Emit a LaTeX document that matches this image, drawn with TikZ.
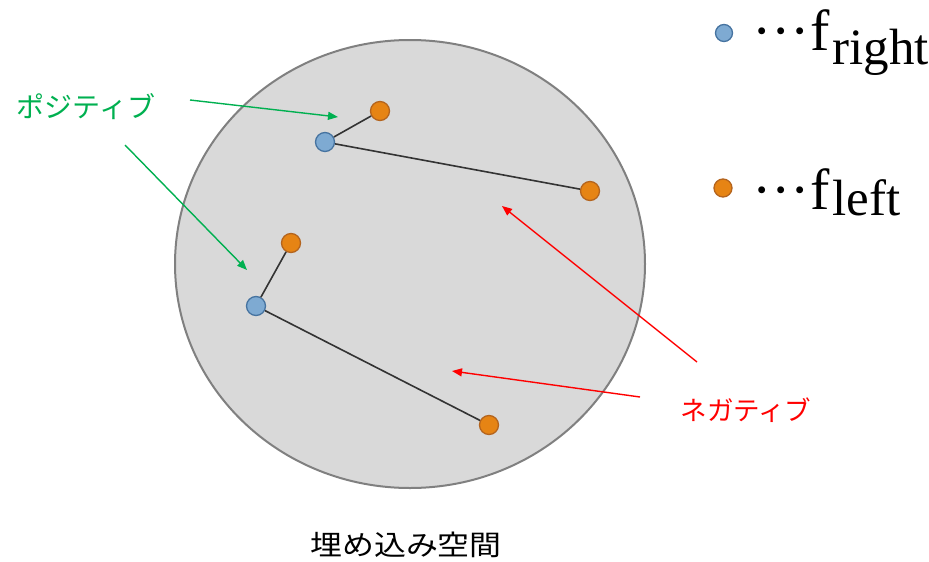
\documentclass[tikz,border=0pt]{standalone}
\usepackage{fontspec}
\usepackage{graphicx}
\setmainfont{Liberation Serif}
\newfontfamily\jp{Noto Sans CJK JP}
\usetikzlibrary{arrows.meta,shapes.geometric}
\definecolor{fillgray}{RGB}{217,217,217}
\definecolor{edgegray}{RGB}{128,128,128}
\definecolor{bluefill}{RGB}{126,170,210}
\definecolor{blueedge}{RGB}{70,115,160}
\definecolor{orfill}{RGB}{230,132,20}
\definecolor{oredge}{RGB}{180,100,30}
\definecolor{posgreen}{RGB}{0,176,80}
\definecolor{negred}{RGB}{255,0,0}
\tikzset{
  bdot/.style={circle,draw=blueedge,fill=bluefill,line width=1.3pt,minimum size=19pt,inner sep=0pt},
  odot/.style={circle,draw=oredge,fill=orfill,line width=1.3pt,minimum size=19pt,inner sep=0pt},
  pair/.style={draw=black!80,line width=1.6pt},
  posarrow/.style={draw=posgreen,line width=1.4pt,-{Triangle[length=10pt,width=8pt]}},
  negarrow/.style={draw=negred,line width=1.4pt,-{Triangle[length=10pt,width=8pt]}},
  legtext/.style={anchor=base west,inner sep=0pt,font=\fontsize{58}{60}\selectfont},
}
\newcommand{\legdots}{\textperiodcentered\textperiodcentered\textperiodcentered}
\begin{document}
\begin{tikzpicture}[x=1pt,y=-1pt]
\useasboundingbox (0,0) rectangle (929,562);
\node[ellipse,draw=edgegray,fill=fillgray,line width=2pt,minimum width=470pt,minimum height=448pt,inner sep=0pt] (space) at (410,264) {};
% pairs
\node[bdot] (b1) at (325,142) {};
\node[odot] (o1a) at (380,111) {};
\node[odot] (o1b) at (590,191) {};
\node[odot] (o2a) at (291,243) {};
\node[bdot] (b2) at (256,306) {};
\node[odot] (o2b) at (489,425) {};
\draw[pair] (b1) -- (o1a);
\draw[pair] (b1) -- (o1b);
\draw[pair] (b2) -- (o2a);
\draw[pair] (b2) -- (o2b);
% labels
\node[text=posgreen,font=\jp\fontsize{28}{32}\selectfont] (pos) at (86,107) {ポジティブ};
\node[text=negred,font=\jp\fontsize{26.5}{30}\selectfont] (neg) at (746,410) {ネガティブ};
\coordinate (ps1) at (190,100);
\coordinate (pe1) at (338,117);
\coordinate (ps2) at (125,145);
\coordinate (pe2) at (247,270);
\draw[posarrow] (ps1) -- (pe1);
\draw[posarrow] (ps2) -- (pe2);
\coordinate (ns1) at (697,362);
\coordinate (ne1) at (502,206);
\coordinate (ns2) at (640,397);
\coordinate (ne2) at (452,371);
\draw[negarrow] (ns1) -- (ne1);
\draw[negarrow] (ns2) -- (ne2);
% legend
\node[bdot,minimum size=17pt] (lb) at (724,33) {};
\node[odot,minimum size=18pt] (lo) at (723,188) {};
\node[legtext] (lbt) at (752,50) {\legdots f\kern3pt\raisebox{-14pt}{\fontsize{51}{53}\selectfont right}};
\node[legtext] (lot) at (752,209) {\legdots f\kern3pt\raisebox{-6pt}{\fontsize{51}{53}\selectfont left}};
% caption
\node[font=\jp\fontsize{28}{32}\selectfont] (cap) at (406,545) {\scalebox{1.14}[1]{埋め込み空間}};
\end{tikzpicture}
\end{document}
